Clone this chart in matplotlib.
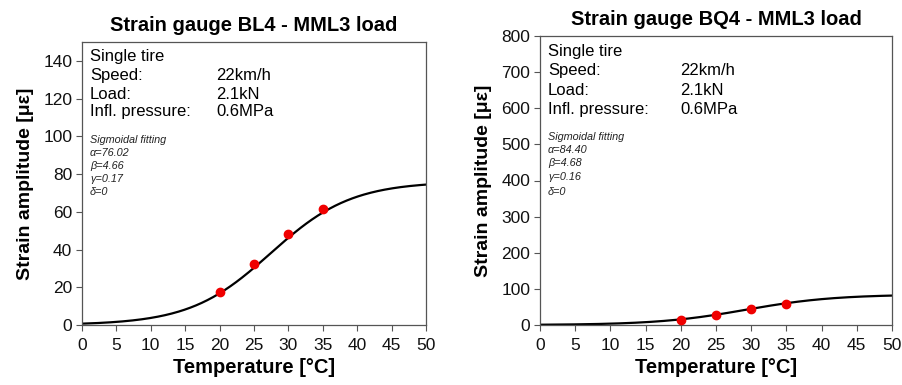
import numpy as np
import matplotlib
matplotlib.use("Agg")
import matplotlib.pyplot as plt

plt.rcParams['font.family'] = ['Liberation Sans', 'DejaVu Sans']

# measured strain amplitudes at the test temperatures
temp_pts = [20, 25, 30, 35]
bl4_pts = [17.6, 32.4, 48.2, 61.3]
bq4_pts = [14.7, 27.0, 43.5, 58.0]

# sigmoidal fit parameters: y = delta + alpha / (1 + exp(beta - gamma*T))
bl4_fit = {'alpha': 76.02, 'beta': 4.66, 'gamma': 0.17, 'delta': 0}
bq4_fit = {'alpha': 84.40, 'beta': 4.68, 'gamma': 0.16, 'delta': 0}

info_labels = ['Speed:', 'Load:', 'Infl. pressure:']
info_values = ['22km/h', '2.1kN', '0.6MPa']


def sigmoid(t, p):
    return p['delta'] + p['alpha'] / (1 + np.exp(p['beta'] - p['gamma'] * t))


def panel(fig, rect, title, pts, fit, ymax, ystep, rows_y, fit_y, xval):
    ax = fig.add_axes(rect)
    t = np.linspace(0, 50, 300)
    ax.plot(t, sigmoid(t, fit), color='black', lw=1.6, zorder=2)
    ax.plot(temp_pts, pts, 'o', color='#f00000', ms=6, zorder=3)
    ax.set_xlim(0, 50)
    ax.set_ylim(0, ymax)
    ax.set_xticks(range(0, 51, 5))
    ax.set_yticks(range(0, ymax if ymax % ystep else ymax + 1, ystep))
    ax.tick_params(direction='out', length=4, width=0.8, labelsize=12.5,
                   color='#555555', labelcolor='#111111')
    ax.tick_params(axis='x', pad=5)
    ax.tick_params(axis='y', pad=3)
    for s in ax.spines.values():
        s.set_color('#555555')
        s.set_linewidth(0.9)
    ax.set_title(title, fontsize=14.5, fontweight='bold', pad=8)
    ax.set_xlabel('Temperature [°C]', fontsize=14.5, fontweight='bold', labelpad=4)
    ax.set_ylabel('Strain amplitude [με]', fontsize=14, fontweight='bold',
                  labelpad=7)

    ax.text(0.023, rows_y[0], 'Single tire', transform=ax.transAxes,
            fontsize=12, va='center')
    for lab, val, y in zip(info_labels, info_values, rows_y[1:]):
        ax.text(0.023, y, lab, transform=ax.transAxes, fontsize=12, va='center')
        ax.text(xval, y, val, transform=ax.transAxes, fontsize=12, va='center')

    fit_lines = ['Sigmoidal fitting',
                 'α=%.2f' % fit['alpha'],
                 'β=%.2f' % fit['beta'],
                 'γ=%.2f' % fit['gamma'],
                 'δ=%d' % fit['delta']]
    for line, y in zip(fit_lines, fit_y):
        ax.text(0.023, y, line, transform=ax.transAxes, fontsize=7.8,
                style='italic', va='center', color='#222222')
    return ax


fig = plt.figure(figsize=(9.03, 3.85), dpi=100)
W, H = 903, 385

ax1 = panel(fig, [82 / W, 60 / H, 344 / W, 283 / H],
            'Strain gauge BL4 - MML3 load', bl4_pts, bl4_fit, 150, 20,
            [0.95, 0.883, 0.816, 0.753],
            [0.654, 0.608, 0.562, 0.516, 0.47], 0.39)
ax2 = panel(fig, [540 / W, 60 / H, 352 / W, 289 / H],
            'Strain gauge BQ4 - MML3 load', bq4_pts, bq4_fit, 800, 100,
            [0.945, 0.879, 0.813, 0.747],
            [0.651, 0.606, 0.561, 0.512, 0.46], 0.398)

fig.savefig('out.png', dpi=100)
